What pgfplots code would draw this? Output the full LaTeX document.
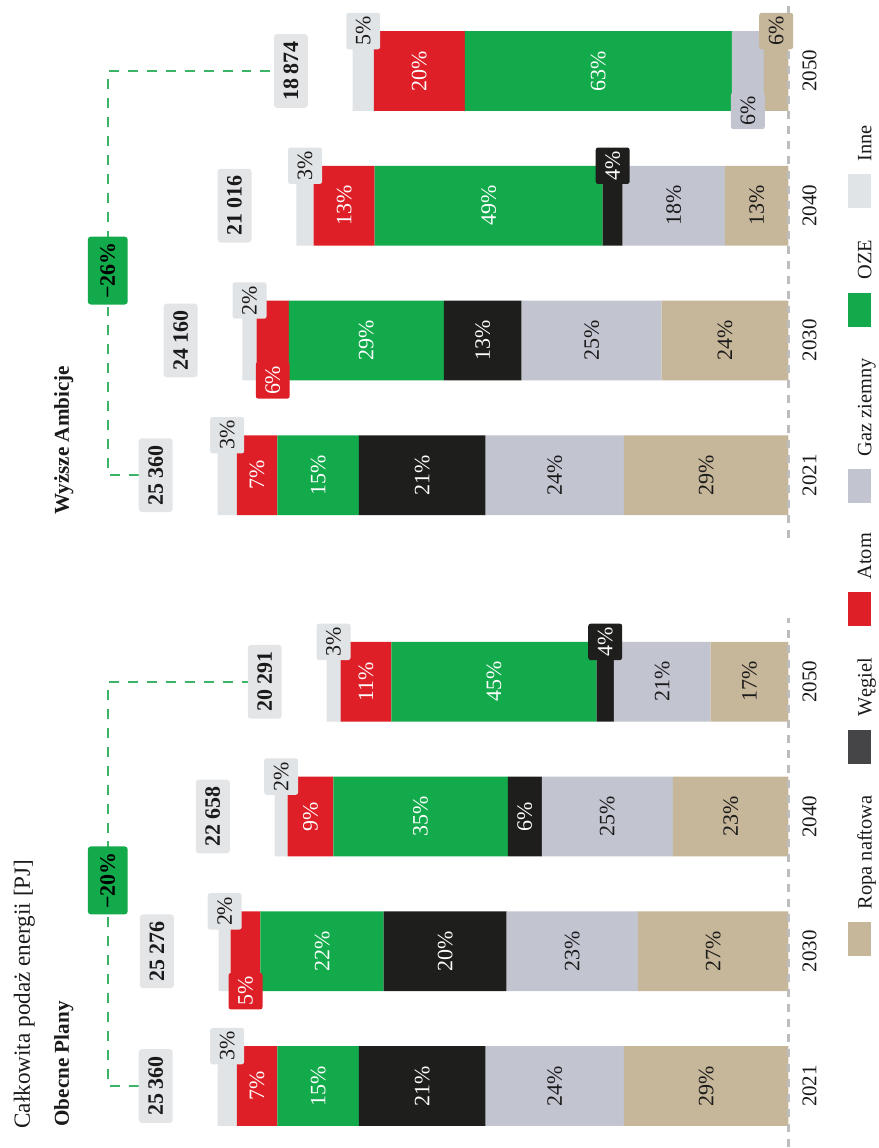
\documentclass[border=0pt]{standalone}
\usepackage{graphicx}
\usepackage{fontspec}
\setmainfont{Liberation Serif}
\usepackage{pgfplots}
\usepackage{pgfplotstable}
\pgfplotsset{compat=1.18}

\definecolor{ropa}{HTML}{C6B69A}
\definecolor{gaz}{HTML}{C2C4D0}
\definecolor{wegiel}{HTML}{1E1E1C}
\definecolor{wegielL}{HTML}{454547}
\definecolor{oze}{HTML}{12AA4B}
\definecolor{atom}{HTML}{DE1F27}
\definecolor{inne}{HTML}{E1E4E6}
\definecolor{totbox}{HTML}{E4E5E7}
\definecolor{conn}{HTML}{3BB467}
\definecolor{basegray}{HTML}{BDBDBD}
\definecolor{txt}{HTML}{1A1A1A}

\newcommand{\ts}{\hspace{0.22em}}
\newcommand{\pctfont}{\fontsize{11}{13}\selectfont}

% energy supply by source [PJ]; x = bar position
\pgfplotstableread{
x Ropa Gaz Wegiel OZE Atom Inne
61 7315 6141 5626 3622 1804 851
196 6686 5835 5458 5475 1326 528
331 5138 5817 1512 7754 2026 576
466 3458 4301 763 9116 2261 616
673 7315 6141 5626 3622 1804 851
808 5631 6225 3454 6885 1428 630
943 2824 4540 887 10135 2704 767
1078 1091 1428 0 11855 4048 935
}\bars

\pgfplotstableread{
x y lab
61 16269 21\%
61 20893 15\%
61 23606 7\%
196 15250 20\%
196 20717 22\%
331 11711 6\%
331 16344 35\%
331 21234 9\%
466 13080 45\%
466 18769 11\%
673 16269 21\%
673 20893 15\%
673 23606 7\%
808 13583 13\%
808 18753 29\%
943 13319 49\%
943 19738 13\%
1078 8447 63\%
1078 16398 20\%
}\inwhite

\pgfplotstableread{
x y lab
61 3658 29\%
61 10386 24\%
196 3343 27\%
196 9604 23\%
331 2569 23\%
331 8047 25\%
466 1729 17\%
466 5609 21\%
673 3658 29\%
673 10386 24\%
808 2816 24\%
808 8744 25\%
943 1412 13\%
943 5094 18\%
}\indark

\pgfplotstableread{
x y lab
101 24934 3\%
236 25044 2\%
371 22535 2\%
506 20207 3\%
713 24934 3\%
848 23938 2\%
983 21474 3\%
1118 18890 5\%
}\boxinne

\pgfplotstableread{
x y lab
156 24117 5\%
768 22909 6\%
}\boxatom

\pgfplotstableread{
x y lab
506 8141 4\%
983 7808 4\%
}\boxwegiel

\pgfplotstableread{
x y lab
1038 1805 6\%
}\boxgaz

\pgfplotstableread{
x y lab
1118 546 6\%
}\boxropa

\pgfplotstableread{
x y lab
61 25359 25\ts360
196 25308 25\ts276
331 22823 22\ts658
466 20515 20\ts291
673 25359 25\ts360
808 24253 24\ts160
943 21857 21\ts016
1078 19357 18\ts874
}\totals

\pgfplotstableread{
x y lab
61 0 2021
196 0 2030
331 0 2040
466 0 2050
673 0 2021
808 0 2030
943 0 2040
1078 0 2050
}\years

\pgfplotsset{
  base/.style={
    scale only axis, width=574pt, height=438pt,
    xmin=0, xmax=1148, ymin=-3813, ymax=35025,
    hide axis, clip=false, anchor=south west, at={(0pt,0pt)},
    legend columns=-1, legend cell align=left,
    legend style={draw=none, fill=none, inner sep=0pt, anchor=west,
      font=\fontsize{10.2}{12}\selectfont, text=txt,
      /tikz/every odd column/.append style={column sep=4.5pt},
      /tikz/every even column/.append style={column sep=14pt}},
  },
  swatch/.style={legend image code/.code={\fill[#1] (0pt,-2pt) rectangle (16.5pt,9pt);}},
  lbl/.style={forget plot, draw=none, mark=none, nodes near coords,
    point meta=explicit symbolic},
  boxlbl/.style={lbl, nodes near coords style={anchor=center, font=\pctfont,
    rounded corners=1.2pt, inner xsep=1.8pt, inner ysep=0pt, minimum height=17pt,
    fill=#1}},
}

\newsavebox{\chartbox}

\begin{document}
\begin{lrbox}{\chartbox}
\begin{tikzpicture}
\begin{axis}[base, ybar stacked, bar width=40pt,
  legend style={at={(0.1664,0.0128)}}]
  \path (rel axis cs:0,0) rectangle (rel axis cs:1,1);
  \draw[basegray, line width=1.1pt, dash pattern=on 4pt off 3.5pt] (axis cs:0,0) -- (axis cs:530,0);
  \draw[basegray, line width=1.1pt, dash pattern=on 4pt off 3.5pt] (axis cs:610,0) -- (axis cs:1148,0);
  \addplot[forget plot, fill=ropa, draw=none] table[x=x, y=Ropa] {\bars};
  \addplot[forget plot, fill=gaz, draw=none] table[x=x, y=Gaz] {\bars};
  \addplot[forget plot, fill=wegiel, draw=none] table[x=x, y=Wegiel] {\bars};
  \addplot[forget plot, fill=oze, draw=none] table[x=x, y=OZE] {\bars};
  \addplot[forget plot, fill=atom, draw=none] table[x=x, y=Atom] {\bars};
  \addplot[forget plot, fill=inne, draw=none] table[x=x, y=Inne] {\bars};
  \addlegendimage{swatch=ropa}
  \addlegendentry{Ropa naftowa}
  \addlegendimage{swatch=wegielL}
  \addlegendentry{Węgiel}
  \addlegendimage{swatch=atom}
  \addlegendentry{Atom}
\end{axis}
\begin{axis}[base, legend style={at={(0.5618,0.0128)}}]
  \path (rel axis cs:0,0) rectangle (rel axis cs:1,1);
  \addlegendimage{swatch=gaz}
  \addlegendentry{Gaz ziemny}
  \addlegendimage{swatch=oze}
  \addlegendentry{OZE}
  \addlegendimage{swatch=inne}
  \addlegendentry{Inne}
  % connectors
  \draw[conn, line width=0.8pt, dash pattern=on 5pt off 4.5pt]
    (axis cs:61,28862) |- (axis cs:466,30237) -- (axis cs:466,24018);
  \draw[conn, line width=0.8pt, dash pattern=on 5pt off 4.5pt]
    (axis cs:673,28862) |- (axis cs:1078,30237) -- (axis cs:1078,22860);
  \node[fill=oze, rounded corners=1.5pt, minimum width=34pt, minimum height=20pt, inner sep=0pt,
    font=\bfseries\fontsize{11}{13}\selectfont, text=black] at (axis cs:267,30237) {−20\%};
  \node[fill=oze, rounded corners=1.5pt, minimum width=34pt, minimum height=20pt, inner sep=0pt,
    font=\bfseries\fontsize{11}{13}\selectfont, text=black] at (axis cs:878,30237) {−26\%};
  % titles
  \node[anchor=base west, font=\fontsize{11.6}{13}\selectfont, text=txt, inner sep=0pt]
    at (axis cs:18,33695) {Całkowita podaż energii [PJ]};
  \node[anchor=base west, font=\bfseries\fontsize{10.6}{12}\selectfont, text=txt, inner sep=0pt]
    at (axis cs:20,31966) {Obecne Plany};
  \node[anchor=base west, font=\bfseries\fontsize{10.6}{12}\selectfont, text=txt, inner sep=0pt]
    at (axis cs:633,31966) {Wyższe Ambicje};
  % labels inside segments
  \addplot[lbl, nodes near coords style={anchor=center, font=\pctfont, text=white}]
    table[x=x, y=y, meta=lab] {\inwhite};
  \addplot[lbl, nodes near coords style={anchor=center, font=\pctfont, text=txt}]
    table[x=x, y=y, meta=lab] {\indark};
  % boxed labels
  \addplot[boxlbl=inne, nodes near coords style={text=txt}] table[x=x, y=y, meta=lab] {\boxinne};
  \addplot[boxlbl=atom, nodes near coords style={text=white}] table[x=x, y=y, meta=lab] {\boxatom};
  \addplot[boxlbl=wegiel, nodes near coords style={text=white}] table[x=x, y=y, meta=lab] {\boxwegiel};
  \addplot[boxlbl=gaz, nodes near coords style={text=txt}] table[x=x, y=y, meta=lab] {\boxgaz};
  \addplot[boxlbl=ropa, nodes near coords style={text=txt}] table[x=x, y=y, meta=lab] {\boxropa};
  % totals
  \addplot[lbl, nodes near coords style={anchor=center, yshift=31pt, fill=totbox, text=txt,
    font=\bfseries\fontsize{11}{13}\selectfont, rounded corners=1.5pt, inner xsep=3.5pt,
    inner ysep=0pt, minimum height=17pt}]
    table[x=x, y=y, meta=lab] {\totals};
  % years
  \addplot[lbl, nodes near coords style={anchor=center, yshift=-10.5pt, text=txt,
    font=\fontsize{10.5}{12}\selectfont}]
    table[x=x, y=y, meta=lab] {\years};
\end{axis}
\end{tikzpicture}
\end{lrbox}%
\rotatebox{90}{\usebox{\chartbox}}
\end{document}
